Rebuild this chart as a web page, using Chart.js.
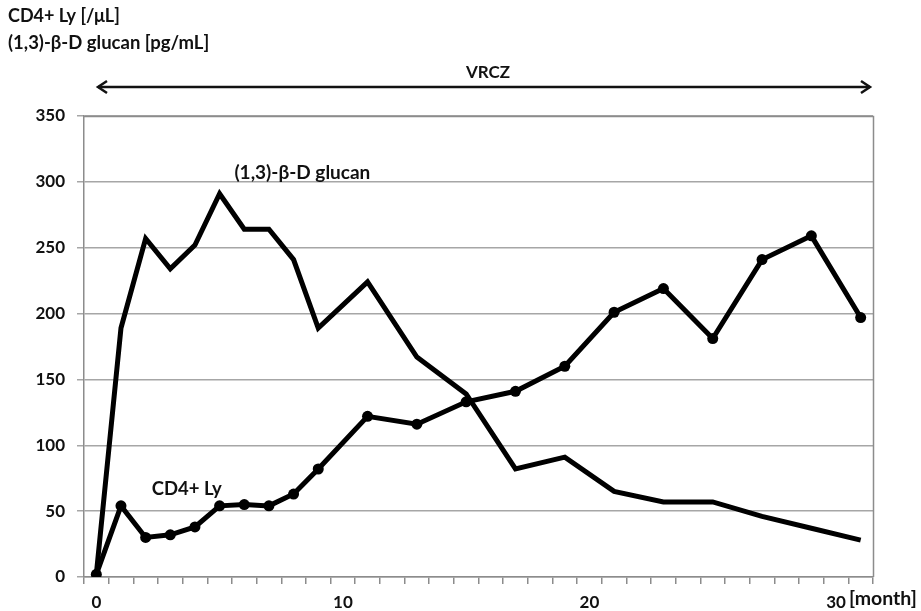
<!DOCTYPE html>
<html>
<head>
<meta charset="utf-8">
<script src="https://cdn.jsdelivr.net/npm/chart.js@4/dist/chart.umd.min.js"></script>
<style>
html,body{margin:0;padding:0;background:#fff;}
#wrap{width:921px;height:611px;position:relative;}
</style>
</head>
<body>
<div id="wrap"><canvas id="c" width="921" height="611"></canvas></div>
<script>
// ---- data ----
const months = ['0','1','2','3','4','5','6','7','8','9','10','11','12','13','14','15','16','17','18','19','20','21','22','23','24','25','26','27','28','29','30','31'];
const cd4 = [2,54,30,32,38,54,55,54,63,82,null,122,null,116,null,133,null,141,null,160,null,201,null,219,null,181,null,241,null,259,null,197];
const glucan = [2,189,257,234,252,291,264,264,241,189,null,224,null,167,null,139,null,82,null,91,null,65,null,57,null,57,null,46,null,37,null,28];
const shownXLabels = ['0','10','20','30'];
const yTicks = [0,50,100,150,200,250,300,350];

const FONT = 'Lato, "Open Sans", sans-serif';

const extras = {
  id: 'extras',
  beforeDraw(chart){
    const {ctx} = chart;
    ctx.save();
    ctx.fillStyle = '#fff';
    ctx.fillRect(0,0,chart.width,chart.height);
    ctx.restore();
  },
  afterDraw(chart){
    const {ctx, chartArea:a, scales} = chart;
    ctx.save();
    // plot border (top and right)
    ctx.strokeStyle = '#8c8c8c';
    ctx.lineWidth = 1.5;
    ctx.beginPath();
    ctx.moveTo(a.left, a.top+0.5);
    ctx.lineTo(a.right+0.5, a.top+0.5);
    ctx.lineTo(a.right+0.5, a.bottom);
    ctx.stroke();

    ctx.fillStyle = '#111';
    ctx.textBaseline = 'middle';
    ctx.textAlign = 'left';
    ctx.font = 'bold 18px ' + FONT;
    ctx.fillText('CD4+ Ly [/\u03bcL]', 8, 16);
    ctx.font = 'bold 18.5px ' + FONT;
    ctx.fillText('(1,3)-\u03b2-D glucan [pg/mL]', 8, 43);

    // VRCZ arrow
    const x1 = 98, x2 = 870, ya = 87;
    ctx.strokeStyle = '#111';
    ctx.lineWidth = 2.5;
    ctx.beginPath();
    ctx.moveTo(x1, ya); ctx.lineTo(x2, ya);
    ctx.stroke();
    ctx.beginPath();
    ctx.moveTo(x1+9, ya-6); ctx.lineTo(x1, ya); ctx.lineTo(x1+9, ya+6);
    ctx.moveTo(x2-9, ya-6); ctx.lineTo(x2, ya); ctx.lineTo(x2-9, ya+6);
    ctx.stroke();
    ctx.textAlign = 'center';
    ctx.font = 'bold 17px ' + FONT;
    ctx.fillText('VRCZ', 488, 73);

    // series labels
    const xs = scales.x, ys = scales.y;
    ctx.textAlign = 'left';
    ctx.font = 'bold 19px ' + FONT;
    ctx.fillText('(1,3)-\u03b2-D glucan', xs.getPixelForValue(5.6), ys.getPixelForValue(307));
    ctx.font = 'bold 18.5px ' + FONT;
    ctx.fillText('CD4+ Ly', xs.getPixelForValue(2.25), ys.getPixelForValue(67));

    // [month] unit
    ctx.font = 'bold 19.5px ' + FONT;
    ctx.fillText('[month]', xs.getPixelForValue(30) + 13, 599);
    ctx.restore();
  }
};

new Chart(document.getElementById('c'), {
  type: 'line',
  data: {
    labels: months,
    datasets: [
      {
        label: '(1,3)-\u03b2-D glucan',
        data: glucan,
        borderColor: '#000',
        borderWidth: 5,
        pointRadius: 0,
        spanGaps: true,
        tension: 0,
        borderJoinStyle: 'miter'
      },
      {
        label: 'CD4+ Ly',
        data: cd4,
        borderColor: '#000',
        backgroundColor: '#000',
        borderWidth: 5,
        pointRadius: 5.5,
        pointBorderWidth: 0,
        pointBackgroundColor: '#000',
        spanGaps: true,
        tension: 0
      }
    ]
  },
  options: {
    responsive: false,
    animation: false,
    events: [],
    layout: { padding: { left: 0, right: 48, top: 116, bottom: 0 } },
    plugins: { legend: { display: false }, tooltip: { enabled: false } },
    scales: {
      x: {
        type: 'category',
        offset: true,
        grid: { offset: true, drawOnChartArea: false, drawTicks: true, tickLength: 7, color: '#8c8c8c', lineWidth: 1.5 },
        border: { color: '#8c8c8c', width: 1.5 },
        ticks: {
          autoSkip: false, maxRotation: 0, padding: 8,
          color: '#111', font: { family: FONT, size: 17, weight: 'bold' },
          callback: function(v, i){ const l = months[i]; return shownXLabels.includes(l) ? l : ''; }
        },
        afterFit(s){ s.height = 34; }
      },
      y: {
        min: 0, max: 350,
        afterBuildTicks(s){ s.ticks = yTicks.map(v => ({value: v})); },
        grid: { color: '#a6a6a6', lineWidth: 1.5, tickLength: 7 },
        border: { color: '#8c8c8c', width: 1.5 },
        ticks: { color: '#111', padding: 12, font: { family: FONT, size: 17, weight: 'bold' } },
        afterFit(s){ s.width = 84; }
      }
    }
  },
  plugins: [extras]
});
</script>
</body>
</html>
